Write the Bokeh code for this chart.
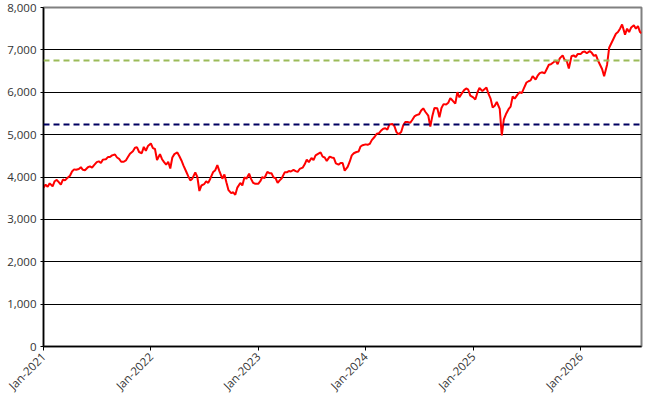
import math
import pandas as pd
from bokeh.plotting import figure
from bokeh.models import (Range1d, Span, FixedTicker, NumeralTickFormatter,
                          DatetimeTickFormatter, ColumnDataSource)
from bokeh.embed import file_html
from bokeh.resources import INLINE

# ---- data (approx. weekly readings, days 1/8/15/22 of each month) ----
days = [1, 8, 15, 22]
v2021 = [3750, 3820, 3770, 3850, 3780, 3900, 3930, 3880, 3820, 3940, 3920, 3970,
         4030, 4130, 4180, 4170, 4190, 4230, 4170, 4160, 4230, 4250, 4220, 4280,
         4350, 4370, 4330, 4410, 4420, 4470, 4470, 4510, 4530, 4460, 4430, 4360,
         4360, 4390, 4470, 4550, 4610, 4690, 4700, 4590, 4560, 4710, 4620, 4730]
v2022 = [4790, 4680, 4660, 4400, 4540, 4420, 4350, 4290, 4360, 4200, 4460, 4540,
         4580, 4490, 4390, 4270, 4130, 4020, 3920, 3960, 4110, 4000, 3670, 3800,
         3830, 3900, 3860, 3960, 4120, 4160, 4280, 4140, 3960, 4060, 3870, 3690,
         3620, 3640, 3580, 3750, 3860, 3800, 3990, 3960, 4080, 3950, 3860, 3840]
v2023 = [3840, 3900, 4000, 3970, 4120, 4090, 4090, 3990, 3970, 3860, 3920, 3970,
         4110, 4110, 4140, 4130, 4170, 4140, 4120, 4190, 4220, 4300, 4410, 4350,
         4450, 4400, 4510, 4540, 4580, 4480, 4460, 4380, 4480, 4460, 4450, 4320,
         4290, 4330, 4330, 4150, 4240, 4360, 4510, 4560, 4590, 4600, 4720, 4750]
v2024 = [4770, 4760, 4780, 4870, 4950, 5020, 5030, 5090, 5140, 5150, 5120, 5240,
         5250, 5200, 5060, 5010, 5060, 5220, 5300, 5300, 5280, 5350, 5430, 5460,
         5480, 5570, 5620, 5540, 5450, 5190, 5440, 5630, 5620, 5410, 5630, 5720,
         5710, 5750, 5860, 5810, 5730, 6000, 5880, 5960, 6050, 6090, 6060, 5920]
v2025 = [5880, 5830, 5990, 6100, 6030, 6070, 6110, 5960, 5850, 5640, 5680, 5770,
         5610, 4980, 5360, 5480, 5600, 5660, 5900, 5850, 5950, 6000, 5980, 6090,
         6230, 6260, 6280, 6380, 6300, 6390, 6450, 6470, 6450, 6550, 6650, 6660,
         6710, 6750, 6660, 6800, 6870, 6760, 6740, 6560, 6850, 6870, 6830, 6900]
v2026 = [6900, 6950, 6960, 6920, 6970, 6930, 6860, 6880, 6750, 6650, 6550, 6380,
         6650, 7050, 7150, 7250, 7380, 7420, 7500, 7600, 7360, 7500, 7420, 7530,
         7580, 7500, 7560, 7420]
last_date = "2026-07-27"
last_value = 7390

olive_level = 6750
navy_level = 5240
tick_years = [2021, 2022, 2023, 2024, 2025, 2026]
y_ticks = [0, 1000, 2000, 3000, 4000, 5000, 6000, 7000, 8000]

dates, values = [], []
for yr, vals in zip(tick_years, [v2021, v2022, v2023, v2024, v2025, v2026]):
    for i, v in enumerate(vals):
        dates.append(pd.Timestamp(year=yr, month=i // 4 + 1, day=days[i % 4]))
        values.append(v)
dates.append(pd.Timestamp(last_date))
values.append(last_value)

src = ColumnDataSource(data=dict(date=dates, value=values))

def ms(ts):
    return pd.Timestamp(ts).value / 1e6

p = figure(width=647, height=404, x_axis_type="datetime",
           output_backend="svg", toolbar_location=None,
           x_range=Range1d(ms("2021-01-01"), ms(last_date)),
           y_range=Range1d(0, 8000),
           min_border_left=43, min_border_right=6, min_border_top=7,
           min_border_bottom=58)
p.background_fill_color = "white"
p.border_fill_color = "white"
p.outline_line_color = "#808080"
p.outline_line_width = 2

font = "Open Sans"
for ax in (p.xaxis[0], p.yaxis[0]):
    ax.axis_line_color = "black"
    ax.axis_line_width = 1.5
    ax.major_tick_line_color = "black"
    ax.major_tick_in = 0
    ax.minor_tick_line_color = None
    ax.major_label_text_font = font
    ax.major_label_text_font_size = "11.5px"
    ax.major_label_text_color = "#333333"

p.yaxis.ticker = FixedTicker(ticks=y_ticks)
p.yaxis.formatter = NumeralTickFormatter(format="0,0")
p.yaxis.major_tick_out = 3
p.yaxis.major_label_standoff = 4

p.xaxis.ticker = FixedTicker(ticks=[ms(f"{y}-01-01") for y in tick_years])
fmt = "%b-%Y"
p.xaxis.formatter = DatetimeTickFormatter(
    microseconds=fmt, milliseconds=fmt, seconds=fmt, minsec=fmt, minutes=fmt,
    hourmin=fmt, hours=fmt, days=fmt, months=fmt, years=fmt)
p.xaxis.major_label_orientation = math.pi / 4
p.xaxis.major_tick_out = 4
p.xaxis.major_label_standoff = 4

p.xgrid.visible = False
p.ygrid.ticker = FixedTicker(ticks=y_ticks[1:-1])
p.ygrid.grid_line_color = "black"
p.ygrid.grid_line_width = 1

p.add_layout(Span(location=olive_level, dimension="width", line_color="#9BBB59",
                  line_width=2, line_dash="6 4"))
p.add_layout(Span(location=navy_level, dimension="width", line_color="#000060",
                  line_width=2, line_dash="6 4"))

p.line(x="date", y="value", source=src, line_color="#FF0000", line_width=2)

open("out.html", "w").write(file_html(p, INLINE))
